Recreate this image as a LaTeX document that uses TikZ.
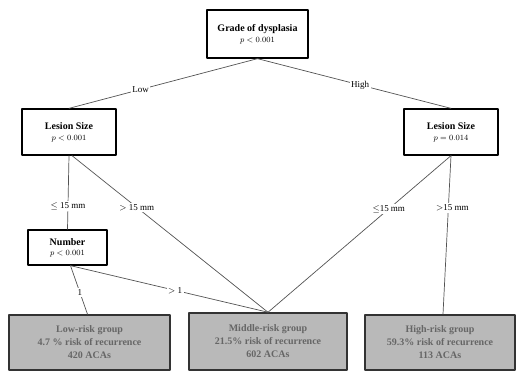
\documentclass[tikz,border=0pt]{standalone}
\usepackage{fontspec}
\setmainfont{Liberation Serif}
\begin{document}
\begin{tikzpicture}[x=1pt,y=-1pt,line cap=round,line join=round,font=\normalsize,
	tbox/.style={draw,line width=1.3pt,minimum width=94pt,minimum height=46pt,align=center,inner sep=2pt},
	gbox/.style={draw=black!80,line width=1.5pt,fill=gray!55,minimum height=55pt,align=center,font=\normalsize\bfseries,text=black!60},
	lnk/.style={draw=gray!65!black,line width=.7pt},
	lbl/.style={fill=white,inner sep=1.5pt,font=\small}]
	\useasboundingbox (0,0) rectangle (523,377);
	% decision nodes
	\node[tbox,minimum width=101pt,minimum height=48pt] (grade) at (257.5,34) {\textbf{Grade of dysplasia}\\[-1pt]{\footnotesize $p<0.001$}};
	\node[tbox] (lesL) at (69,132) {\textbf{Lesion Size}\\[-1pt]{\footnotesize $p<0.001$}};
	\node[tbox] (lesR) at (451,132) {\textbf{Lesion Size}\\[-1pt]{\footnotesize $p=0.014$}};
	\node[tbox,minimum width=79pt,minimum height=35pt] (numb) at (67.5,247.5) {\textbf{Number}\\[-2pt]{\footnotesize $p<0.001$}};
	% risk groups
	\node[gbox,minimum width=161pt] (low) at (89.5,342.5) {Low-risk group\\[1pt]4.7 \% risk of recurrence\\[1pt]420 ACAs};
	\node[gbox,minimum width=158pt,minimum height=57pt] (mid) at (268,341.5) {Middle-risk group\\[1pt]21.5\% risk of recurrence\\[1pt]602 ACAs};
	\node[gbox,minimum width=150pt] (high) at (440,342.5) {High-risk group\\[1pt]59.3\% risk of recurrence\\[1pt]113 ACAs};
	% branches
	\draw[lnk] (grade.south) -- node[lbl,pos=.62]{Low} (lesL.north);
	\draw[lnk] (grade.south) -- node[lbl,pos=.53]{High} (lesR.north);
	\draw[lnk] (lesL.south) -- node[lbl,pos=.68]{$\leq$ 15 mm} (numb.north);
	\draw[lnk] ([xshift=3pt]lesL.south) -- node[lbl,pos=.33]{$>$ 15 mm} (mid.north);
	\draw[lnk] (lesR.south) -- node[lbl,pos=.34]{$\leq$15 mm} (mid.north);
	\draw[lnk] (lesR.south) -- node[lbl,pos=.33,xshift=4pt]{$>$15 mm} ([xshift=3pt]high.north);
	\draw[lnk] ([xshift=3pt]numb.south) -- node[lbl,pos=.55]{1} ([xshift=-2pt]low.north);
	\draw[lnk] ([xshift=3pt]numb.south) -- node[lbl,pos=.53]{$>$ 1} (mid.north);
\end{tikzpicture}
\end{document}
